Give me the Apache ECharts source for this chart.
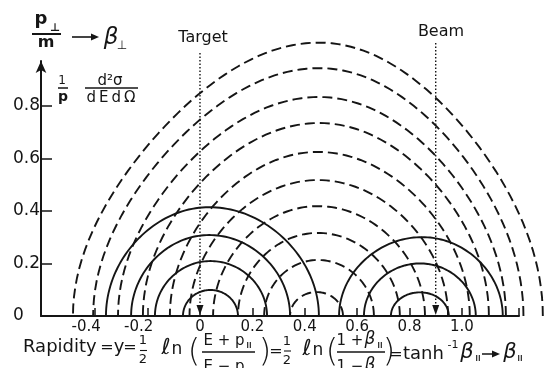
<!DOCTYPE html>
<html>
<head>
<meta charset="utf-8">
<script src="https://cdn.jsdelivr.net/npm/echarts@6/dist/echarts.min.js"></script>
<style>
  html, body { margin: 0; padding: 0; background: #fff; }
  #chart { width: 552px; height: 368px; }
</style>
</head>
<body>
<div id="chart"></div>
<script>
// Contours of constant c.m. momentum (dashed): peak rapidity, baseline crossings, peak beta_perp
const cmPeak   = [0.455, 0.455, 0.455, 0.455, 0.45, 0.45, 0.45, 0.45, 0.45, 0.445];
const cmLeft   = [-0.485, -0.408, -0.313, -0.218, -0.115, -0.04, 0.05, 0.145, 0.245, 0.344];
const cmRight  = [1.309, 1.235, 1.168, 1.103, 1.03, 0.947, 0.859, 0.763, 0.664, 0.546];
const cmHeight = [1.04, 0.943, 0.833, 0.734, 0.624, 0.517, 0.418, 0.316, 0.213, 0.091];

// Contours about the target rapidity (solid)
const tgtPeak   = [0.035, 0.035, 0.04, 0.04];
const tgtLeft   = [-0.359, -0.263, -0.172, -0.065];
const tgtRight  = [0.454, 0.344, 0.256, 0.145];
const tgtHeight = [0.414, 0.308, 0.209, 0.099];

// Contours about the beam rapidity (solid)
const beamPeak   = [0.848, 0.84, 0.84];
const beamLeft   = [0.531, 0.626, 0.729];
const beamRight  = [1.156, 1.053, 0.95];
const beamHeight = [0.30, 0.20, 0.09];

// Target and beam rapidity markers
const markerX   = [0, 0.9];
const markerTop = [1.0, 1.038];

// Axis ticks and labels
const xTicks  = [-0.4, -0.2, 0, 0.2, 0.4, 0.6, 0.8, 1.0, 1.218];
const xLabels = [-0.4, -0.2, 0, 0.2, 0.4, 0.6, 0.8, 1.0];
const yTicks  = [0, 0.2, 0.4, 0.6, 0.8];

const ink = '#151515';
const FONT = '"DejaVu Sans"';

const rows = (p, l, r, h) => p.map((v, i) => [v, l[i], r[i], h[i]]);

// A momentum contour: rapidity offset = atanh(beta* cos(theta)), height = (p*/m) sin(theta)
function contourItem(dashed) {
  return function (params, api) {
    const p = api.value(0), l = api.value(1), r = api.value(2), h = api.value(3);
    const bl = Math.tanh(p - l), br = Math.tanh(r - p);
    const pts = [];
    const n = 90;
    for (let i = 0; i <= n; i++) {
      const th = Math.PI * i / n;
      const c = Math.cos(th);
      const dx = c >= 0 ? Math.atanh(br * c) : -Math.atanh(bl * -c);
      pts.push(api.coord([p + dx, h * Math.sin(th)]));
    }
    return {
      type: 'polyline',
      shape: { points: pts },
      style: { fill: 'none', stroke: ink, lineWidth: 1.9, lineDash: dashed ? [10, 5] : null }
    };
  };
}

// Dotted marker line ending in an arrowhead on the axis
function markerItem(params, api) {
  const top = api.coord([api.value(0), api.value(1)]);
  const bot = api.coord([api.value(0), 0]);
  return {
    type: 'group',
    children: [
      { type: 'line', shape: { x1: top[0], y1: top[1], x2: bot[0], y2: bot[1] - 8 },
        style: { stroke: ink, lineWidth: 1.4, lineDash: [1.3, 2.2] } },
      { type: 'polygon', shape: { points: [[bot[0], bot[1] - 1], [bot[0] - 3.5, bot[1] - 11], [bot[0] + 3.5, bot[1] - 11]] },
        style: { fill: ink } }
    ]
  };
}

function txt(text, x, y, size, opt) {
  opt = opt || {};
  return {
    type: 'text', x: x, y: y, silent: true,
    style: {
      text: text,
      font: (opt.italic ? 'italic ' : '') + (opt.weight || 'normal') + ' ' + size + 'px ' + FONT,
      fill: ink, align: opt.align || 'center', verticalAlign: 'middle'
    }
  };
}
function seg(x1, y1, x2, y2, w) {
  return { type: 'line', silent: true, shape: { x1: x1, y1: y1, x2: x2, y2: y2 }, style: { stroke: ink, lineWidth: w || 1.5 } };
}
function head(x, y) {
  return { type: 'polygon', silent: true, shape: { points: [[x, y], [x - 8, y - 3.5], [x - 8, y + 3.5]] }, style: { fill: ink } };
}
// "parallel" subscript: two short strokes
function par(x, y) {
  return [seg(x - 1.3, y - 3, x - 1.3, y + 3, 1.1), seg(x + 1.3, y - 3, x + 1.3, y + 3, 1.1)];
}

const graphics = [
  // p_perp / m -> beta_perp
  txt('p', 41, 19, 18, { weight: 'bold' }),
  txt('⊥', 55, 28, 11, { weight: 'bold' }),
  seg(32, 34, 61, 34, 2),
  txt('m', 46, 43, 16, { weight: 'bold' }),
  seg(72, 37, 93, 37, 1.6), head(99, 37),
  txt('β', 111, 38, 23, { italic: true }),
  txt('⊥', 122, 46, 12),
  // (1/p) d2sigma / dE dOmega
  txt('1', 62, 81, 12),
  seg(58, 88, 68, 88, 1.5),
  txt('p', 63, 97, 14, { weight: 'bold' }),
  txt('d²σ', 110, 81, 15),
  seg(85, 88, 138, 88, 1.5),
  txt('d\u2009E\u2009d\u2009Ω', 111, 98, 15),
  // marker captions
  txt('Target', 203, 38, 16),
  txt('Beam', 441, 32, 16),
  // rapidity definition
  txt('Rapidity', 23, 347, 18, { align: 'left' }),
  txt('=', 107, 348, 16), txt('y', 119, 347, 18), txt('=', 130, 348, 16),
  txt('1', 143, 341, 13), seg(140, 350.5, 147, 350.5, 1.1), txt('2', 143, 360, 13),
  txt('ℓ', 166, 348, 22, { italic: true }), txt('n', 177, 350, 17),
  txt('(', 194, 353, 32, { weight: 200 }),
  txt('E + p', 224, 341, 15), ...par(249, 345),
  seg(202, 352, 255, 352, 1.4),
  txt('E − p', 224, 367, 15), ...par(249, 371),
  txt(')', 265, 353, 32, { weight: 200 }),
  txt('=', 276, 352, 16),
  txt('1', 287, 342, 13), seg(284, 351, 291, 351, 1.1), txt('2', 287, 361, 13),
  txt('ℓ', 307, 349, 22, { italic: true }), txt('n', 318, 351, 17),
  txt('(', 332, 353, 32, { weight: 200 }),
  txt('1 +', 350, 341, 15), txt('β', 370, 340, 17, { italic: true }), ...par(380, 345),
  seg(337, 352, 385, 352, 1.4),
  txt('1 −', 350, 367, 15), txt('β', 370, 366, 17, { italic: true }), ...par(380, 371),
  txt(')', 389, 353, 32, { weight: 200 }),
  txt('=', 396, 355, 16),
  txt('tanh', 403, 354, 18, { align: 'left' }),
  txt('-1', 453, 345, 11),
  txt('β', 467, 353, 21, { italic: true }), ...par(478, 358),
  seg(482, 354, 494, 354, 1.5), head(500, 354),
  txt('β', 510, 353, 21, { italic: true }), ...par(520, 358)
];

const chart = echarts.init(document.getElementById('chart'), null, { renderer: 'canvas' });
chart.setOption({
  animation: false,
  backgroundColor: '#fff',
  grid: { left: 41, right: 33, top: 61, bottom: 52 },
  xAxis: {
    type: 'value', min: -0.607, max: 1.218,
    splitLine: { show: false },
    axisLine: { onZero: false, lineStyle: { color: ink, width: 2 } },
    axisTick: { inside: true, length: 8, lineStyle: { color: ink, width: 1.5 }, customValues: xTicks },
    axisLabel: {
      customValues: xLabels, margin: 4, color: ink, fontFamily: 'DejaVu Sans', fontSize: 15,
      formatter: v => v < 0 ? '{n|' + v.toFixed(1) + '}' : (v === 0 ? '0' : v.toFixed(1)),
      rich: { n: { fontFamily: 'DejaVu Sans', fontSize: 15, color: ink, padding: [0, 18, 0, 0] } }
    }
  },
  yAxis: {
    type: 'value', min: 0, max: 0.97,
    splitLine: { show: false },
    axisLine: { onZero: false, symbol: ['none', 'arrow'], symbolSize: [8, 12], lineStyle: { color: ink, width: 2 } },
    axisTick: { inside: true, length: 11, lineStyle: { color: ink, width: 1.5 }, customValues: yTicks },
    axisLabel: {
      customValues: yTicks, align: 'left', margin: 28, color: ink, fontFamily: 'DejaVu Sans', fontSize: 17,
      formatter: v => v === 0 ? '0' : v.toFixed(1)
    }
  },
  series: [
    { type: 'custom', name: 'cm', clip: false, silent: true, encode: { x: [0, 1, 2], y: 3 },
      renderItem: contourItem(true), data: rows(cmPeak, cmLeft, cmRight, cmHeight) },
    { type: 'custom', name: 'target', clip: false, silent: true, encode: { x: [0, 1, 2], y: 3 },
      renderItem: contourItem(false), data: rows(tgtPeak, tgtLeft, tgtRight, tgtHeight) },
    { type: 'custom', name: 'beam', clip: false, silent: true, encode: { x: [0, 1, 2], y: 3 },
      renderItem: contourItem(false), data: rows(beamPeak, beamLeft, beamRight, beamHeight) },
    { type: 'custom', name: 'markers', clip: false, silent: true, encode: { x: 0, y: 1 },
      renderItem: markerItem, data: markerX.map((x, i) => [x, markerTop[i]]) }
  ],
  graphic: graphics
});
</script>
</body>
</html>
